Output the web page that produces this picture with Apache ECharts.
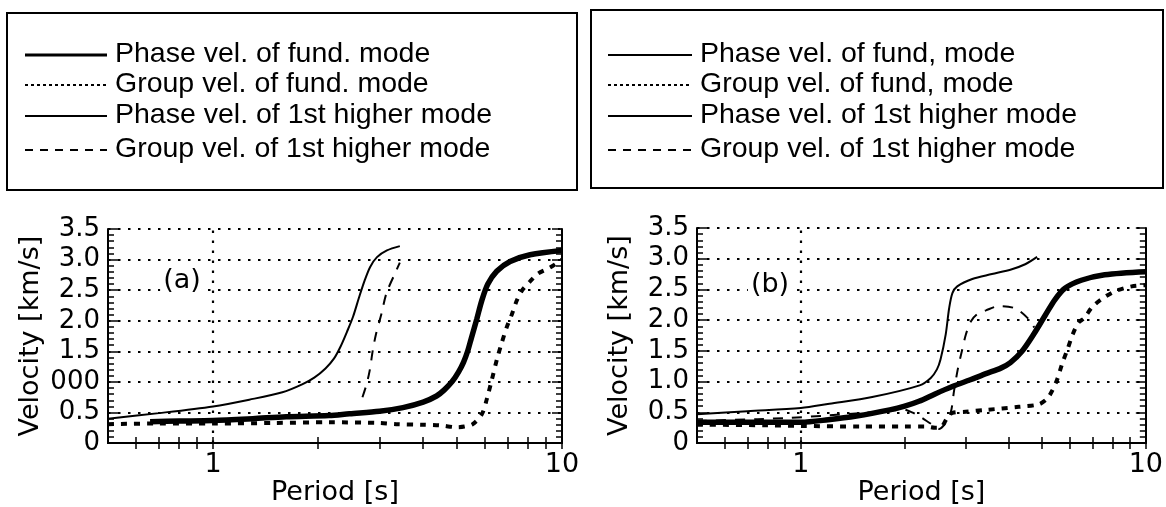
<!DOCTYPE html>
<html>
<head>
<meta charset="utf-8">
<script src="https://cdn.jsdelivr.net/npm/echarts@6/dist/echarts.min.js"></script>
<style>
  html, body { margin: 0; padding: 0; background: #fff; }
  #chart { width: 1166px; height: 507px; }
</style>
</head>
<body>
<div id="chart"></div>
<script>
// ---- Dispersion curves: [period (s), velocity (km/s)] ----
// Panel (a)
const phaseFundA = [[0.66,0.35],[0.8,0.36],[1.0,0.37],[1.3,0.40],[1.62,0.43],[2.15,0.45],[2.46,0.48],[3.0,0.52],[3.5,0.58],[4.0,0.67],[4.37,0.77],[4.6,0.87],[4.85,1.01],[5.05,1.16],[5.22,1.32],[5.37,1.51],[5.5,1.72],[5.7,2.03],[5.89,2.33],[6.13,2.60],[6.5,2.81],[7.1,2.97],[8.1,3.08],[10,3.15]];
const groupFundA = [[0.5,0.31],[0.7,0.32],[1.0,0.32],[1.5,0.33],[2.15,0.34],[3.0,0.33],[3.35,0.31],[4.0,0.30],[4.46,0.29],[5.0,0.26],[5.25,0.27],[5.55,0.31],[5.89,0.47],[6.09,0.72],[6.29,1.03],[6.51,1.37],[6.72,1.64],[6.95,1.90],[7.18,2.10],[7.42,2.33],[7.67,2.49],[8.09,2.64],[8.53,2.77],[9.24,2.87],[10,3.0]];
const phaseHighA = [[0.5,0.40],[0.7,0.49],[1.0,0.60],[1.27,0.71],[1.58,0.83],[1.8,0.96],[1.95,1.07],[2.1,1.22],[2.22,1.38],[2.32,1.58],[2.42,1.82],[2.52,2.07],[2.62,2.38],[2.72,2.66],[2.82,2.88],[2.95,3.04],[3.15,3.15],[3.43,3.22]];
const groupHighA = [[2.68,0.75],[2.75,0.95],[2.81,1.18],[2.87,1.52],[2.93,1.78],[3.04,2.12],[3.14,2.45],[3.35,2.82],[3.43,2.95]];
// Panel (b)
const phaseFundB = [[0.5,0.34],[0.7,0.34],[1.0,0.34],[1.2,0.38],[1.45,0.44],[1.81,0.54],[2.0,0.60],[2.2,0.68],[2.45,0.80],[2.75,0.92],[3.1,1.03],[3.44,1.13],[3.8,1.22],[4.05,1.31],[4.37,1.49],[4.73,1.77],[5.11,2.08],[5.46,2.34],[5.83,2.52],[6.50,2.65],[7.60,2.74],[10,2.79]];
const groupFundB = [[0.5,0.30],[0.8,0.29],[1.0,0.28],[1.5,0.27],[2.0,0.27],[2.3,0.27],[2.45,0.25],[2.55,0.26],[2.65,0.40],[2.75,0.49],[3.0,0.51],[3.44,0.54],[4.28,0.59],[4.89,0.63],[5.17,0.72],[5.35,0.85],[5.53,1.03],[5.72,1.29],[5.94,1.54],[6.14,1.77],[6.38,1.96],[6.62,2.03],[6.98,2.21],[7.43,2.34],[8.14,2.47],[9.1,2.55],[10,2.57]];
const phaseHighB = [[0.5,0.47],[0.7,0.52],[1.0,0.57],[1.21,0.64],[1.61,0.75],[2.21,0.94],[2.38,1.06],[2.48,1.20],[2.54,1.36],[2.63,1.77],[2.69,2.19],[2.75,2.44],[2.84,2.55],[3.14,2.67],[3.58,2.75],[4.09,2.83],[4.47,2.91],[4.84,3.03]];
const groupHighB = [[0.5,0.36],[0.75,0.39],[0.93,0.41],[1.2,0.45],[1.5,0.49],[1.8,0.52],[1.97,0.55],[2.1,0.50],[2.2,0.44],[2.39,0.31],[2.52,0.23],[2.62,0.32],[2.72,0.50],[2.78,0.85],[2.85,1.20],[2.93,1.50],[3.01,1.77],[3.11,1.98],[3.25,2.10],[3.44,2.16],[3.76,2.23],[4.19,2.19],[4.59,2.01],[4.75,1.88]];

// ---- Axis ticks and labels ----
const periodTicks = [0.6,0.7,0.8,0.9,1,2,3,4,5,6,7,8,9,10];
const periodLabels = [1, 10];
const velocityLabelsA = ['0','0.5','000','1.5','2.0','2.5','3.0','3.5'];
const velocityLabelsB = ['0','0.5','1.0','1.5','2.0','2.5','3.0','3.5'];

// ---- Legend texts ----
const legendLabelsA = ['Phase vel. of fund. mode','Group vel. of fund. mode','Phase vel. of 1st higher mode','Group vel. of 1st higher mode'];
const legendLabelsB = ['Phase vel. of fund, mode','Group vel. of fund, mode','Phase vel. of 1st higher mode','Group vel. of 1st higher mode'];
const panelTags = ['(a)', '(b)'];

const INK = '#000';
const AXIS_FONT = 'DejaVu Sans';
const LEGEND_FONT = 'Liberation Sans';
const DOTTED = [2.5, 7.5];

const grids = [
  { left: 108, top: 229, width: 454, height: 227.5 },
  { left: 697, top: 228, width: 451, height: 227 }
];

function xAxes(g, nameGap) {
  const base = {
    type: 'log', logBase: 10, gridIndex: g, min: 0.5, max: 10,
    axisLine: { show: true, lineStyle: { color: INK, width: 2 } },
    axisTick: { show: true, inside: true, length: 6, customValues: periodTicks, lineStyle: { color: INK, width: 1.5 } },
    splitLine: { show: false },
    minorTick: { show: false }
  };
  return [
    Object.assign({}, base, {
      position: 'bottom',
      axisLabel: { show: true, customValues: periodLabels, formatter: v => String(Math.round(v)),
        color: INK, fontSize: 27, fontFamily: AXIS_FONT, margin: 8 },
      name: 'Period [s]', nameLocation: 'middle', nameGap: nameGap,
      nameTextStyle: { color: INK, fontSize: 27, fontFamily: AXIS_FONT }
    }),
    Object.assign({}, base, { position: 'top', axisLabel: { show: false } })
  ];
}

function yAxes(g, labels) {
  const base = {
    type: 'value', gridIndex: g, min: 0, max: 3.5, interval: 0.5,
    axisLine: { show: true, lineStyle: { color: INK, width: 2 } },
    axisTick: { show: true, inside: true, length: 10, lineStyle: { color: INK, width: 1.5 } },
    minorTick: { show: true, splitNumber: 5, length: 6, lineStyle: { color: INK, width: 1.5 } }
  };
  return [
    Object.assign({}, base, {
      position: 'left',
      axisLabel: { show: true, formatter: v => labels[Math.round(v * 2)],
        color: INK, fontSize: 26, fontFamily: AXIS_FONT, margin: 8 },
      splitLine: { show: true, lineStyle: { color: INK, width: 2.2, type: DOTTED } },
      name: 'Velocity [km/s]', nameLocation: 'middle', nameGap: 64, nameRotate: 90,
      nameTextStyle: { color: INK, fontSize: 27, fontFamily: AXIS_FONT }
    }),
    Object.assign({}, base, { position: 'right', axisLabel: { show: false }, splitLine: { show: false } })
  ];
}

function curve(data, axisIdx, width, type) {
  return {
    type: 'line', data: data, xAxisIndex: axisIdx, yAxisIndex: axisIdx,
    showSymbol: false, symbol: 'none', smooth: 0.3, silent: true,
    lineStyle: { color: INK, width: width, type: type, cap: 'butt' }
  };
}

function unitPeriodLine() {
  return {
    silent: true, symbol: ['none', 'none'], label: { show: false },
    lineStyle: { color: INK, width: 2.2, type: DOTTED },
    data: [{ xAxis: 1 }]
  };
}

function panelSeries(axisIdx, pf, gf, ph, gh) {
  const s = [
    curve(pf, axisIdx, 5.5, 'solid'),
    curve(gf, axisIdx, 4, [6, 7]),
    curve(ph, axisIdx, 2, 'solid'),
    curve(gh, axisIdx, 2, [10, 9])
  ];
  s[2].markLine = unitPeriodLine();
  return s;
}

// Boxed key drawn above each panel
function legendBox(box, labels, firstWidth) {
  const styles = [
    { w: firstWidth, dash: null },
    { w: 2, dash: [3, 3] },
    { w: 2, dash: null },
    { w: 2, dash: [8, 7] }
  ];
  const rows = [54, 84, 115, 149];
  const els = [{
    type: 'rect', shape: { x: box.x, y: box.y, width: box.w, height: box.h },
    style: { fill: 'none', stroke: INK, lineWidth: 2 }
  }];
  labels.forEach((txt, i) => {
    els.push({
      type: 'line',
      shape: { x1: box.x + box.lineFrom, y1: rows[i] + 1, x2: box.x + box.lineTo, y2: rows[i] + 1 },
      style: { stroke: INK, lineWidth: styles[i].w, lineDash: styles[i].dash }
    });
    els.push({
      type: 'text', x: box.x + box.textX, y: rows[i],
      style: { text: txt, fill: INK, font: '28.5px "' + LEGEND_FONT + '"', textVerticalAlign: 'middle' }
    });
  });
  return els;
}

function panelTag(txt, x, y) {
  return {
    type: 'text', x: x, y: y, z: 50,
    style: { text: txt, fill: INK, font: '27px "' + AXIS_FONT + '"', textAlign: 'center',
      textVerticalAlign: 'middle', backgroundColor: '#fff', padding: [0, 3] }
  };
}

const chart = echarts.init(document.getElementById('chart'), null, { renderer: 'canvas' });
chart.setOption({
  animation: false,
  backgroundColor: '#fff',
  grid: grids,
  xAxis: xAxes(0, 14).concat(xAxes(1, 22)),
  yAxis: yAxes(0, velocityLabelsA).concat(yAxes(1, velocityLabelsB)),
  series: panelSeries(0, phaseFundA, groupFundA, phaseHighA, groupHighA)
    .concat(panelSeries(2, phaseFundB, groupFundB, phaseHighB, groupHighB)),
  graphic: [].concat(
    legendBox({ x: 7, y: 13, w: 570, h: 177, lineFrom: 18, lineTo: 100, textX: 108 }, legendLabelsA, 3.2),
    legendBox({ x: 591, y: 10, w: 572, h: 178, lineFrom: 17, lineTo: 101, textX: 109 }, legendLabelsB, 2),
    [panelTag(panelTags[0], 182, 281), panelTag(panelTags[1], 770, 285)]
  )
});
</script>
</body>
</html>
